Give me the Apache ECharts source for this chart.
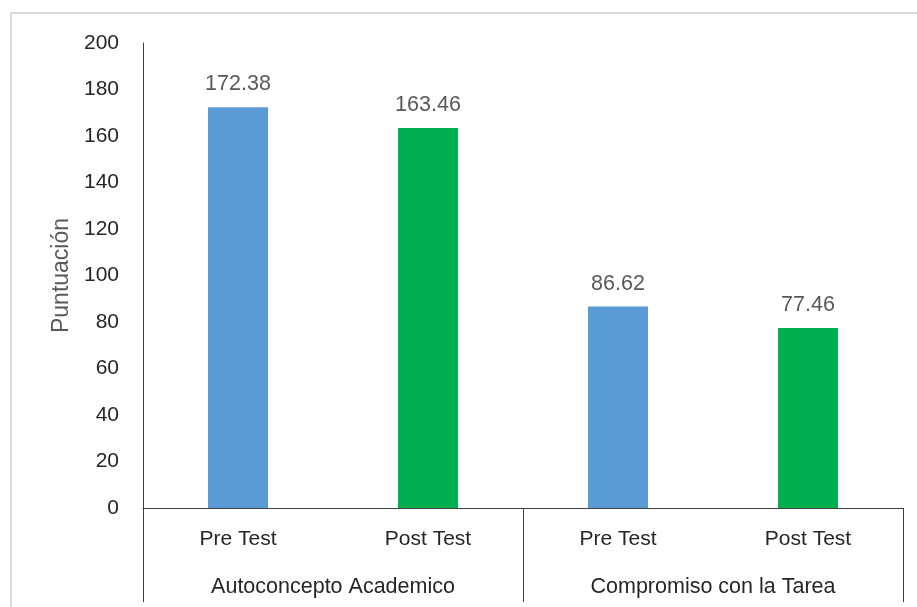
<!DOCTYPE html>
<html>
<head>
<meta charset="utf-8">
<script src="https://cdn.jsdelivr.net/npm/echarts@6/dist/echarts.min.js"></script>
<style>
html,body{margin:0;padding:0;background:#fff;overflow:hidden;}
#frame{position:absolute;left:10px;top:12px;width:910px;height:700px;border:2px solid #d9d9d9;box-sizing:border-box;}
#chart{position:absolute;left:0;top:0;width:917px;height:607px;}
</style>
</head>
<body>
<div id="frame"></div>
<div id="chart"></div>
<script>
const subCategories = ['Pre Test', 'Post Test', 'Pre Test', 'Post Test'];
const groups = ['Autoconcepto Academico', 'Compromiso con la Tarea'];
const values = [172.38, 163.46, 86.62, 77.46];
const barColors = ['#5B9BD5', '#00B050', '#5B9BD5', '#00B050'];
const yTicks = { min: 0, max: 200, interval: 20 };
const yName = 'Puntuación';

const FONT = 'Liberation Sans';
const chart = echarts.init(document.getElementById('chart'));
chart.setOption({
  backgroundColor: 'transparent',
  animation: false,
  grid: { left: 143, right: 14, top: 43, bottom: 99 },
  xAxis: [
    {
      type: 'category',
      data: subCategories,
      axisLine: { show: true, lineStyle: { color: '#404040', width: 1 } },
      axisTick: { show: false },
      axisLabel: { color: '#262626', fontSize: 21, fontFamily: FONT, margin: 21 }
    },
    {
      type: 'category',
      data: groups,
      position: 'bottom',
      axisLine: { show: false },
      axisTick: { show: true, length: 94, lineStyle: { color: '#404040', width: 1 } },
      axisLabel: { color: '#262626', fontSize: 21.5, fontFamily: FONT, margin: 68 }
    }
  ],
  yAxis: {
    type: 'value',
    min: yTicks.min, max: yTicks.max, interval: yTicks.interval,
    name: yName,
    nameLocation: 'middle',
    nameGap: 70,
    nameTextStyle: { color: '#595959', fontSize: 23, fontFamily: FONT },
    axisLine: { show: true, lineStyle: { color: '#404040', width: 1 } },
    axisTick: { show: false },
    splitLine: { show: false },
    axisLabel: { color: '#262626', fontSize: 21, fontFamily: FONT, margin: 24 }
  },
  series: [{
    type: 'bar',
    xAxisIndex: 0,
    barWidth: 60,
    data: values.map((v, i) => ({ value: v, itemStyle: { color: barColors[i] } })),
    label: {
      show: true, position: 'top', distance: 12,
      color: '#595959', fontSize: 21.5, fontFamily: FONT,
      formatter: p => p.value.toFixed(2)
    }
  }]
});
</script>
</body>
</html>
